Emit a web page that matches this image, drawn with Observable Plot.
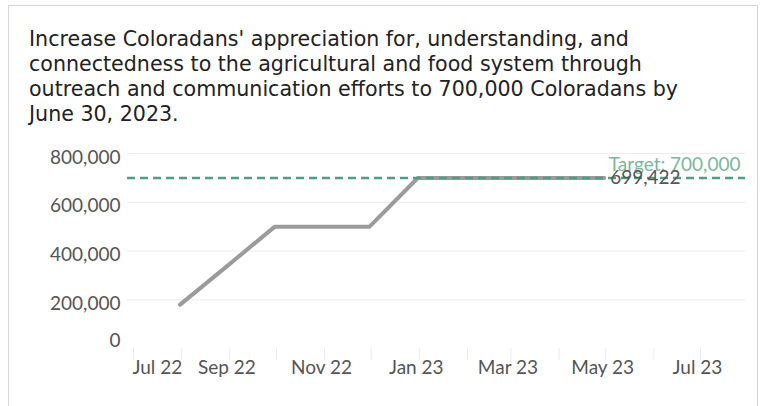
<!DOCTYPE html>
<html>
<head>
<meta charset="utf-8">
<script src="https://cdn.jsdelivr.net/npm/d3@7"></script>
<script src="https://cdn.jsdelivr.net/npm/@observablehq/plot@0.6"></script>
<style>
  html, body { margin: 0; padding: 0; background: #fff; }
  #wrap { position: relative; width: 761px; height: 406px; overflow: hidden; }
  #frame { position: absolute; left: 8px; top: 5px; width: 748px; height: 420px;
           border-top: 1px solid #d6d6d6; border-left: 1px solid #d6d6d6; border-right: 1px solid #d6d6d6; }
  #title { position: absolute; left: 29px; top: 28px; font-family: "DejaVu Sans", sans-serif;
           font-size: 19px; line-height: 25px; color: #222; white-space: pre; }
  #chart { position: absolute; left: 0; top: 140px; }
</style>
</head>
<body>
<div id="wrap">
  <div id="frame"></div>
  <div id="title"></div>
  <div id="chart"></div>
</div>
<script>
const titleLines = [
  "Increase Coloradans' appreciation for, understanding, and",
  "connectedness to the agricultural and food system through",
  "outreach and communication efforts to 700,000 Coloradans by",
  "June 30, 2023."
];
const dates = ["2022-07-31","2022-08-31","2022-09-30","2022-10-31","2022-11-30","2022-12-31","2023-01-31","2023-02-28","2023-03-31","2023-04-30"];
const values = [180000, 342000, 500000, 500000, 500000, 699422, 699422, 699422, 699422, 699422];
const target = 700000;
const targetLabel = "Target: 700,000";
const yTicks = [0, 200000, 400000, 600000, 800000];
const xLabelDates = ["2022-07-01","2022-09-01","2022-11-01","2023-01-01","2023-03-01","2023-05-01","2023-07-01"];
const xLabels = ["Jul 22","Sep 22","Nov 22","Jan 23","Mar 23","May 23","Jul 23"];

// title, sized so that its first line spans the same width as in the reference
const titleEl = document.getElementById("title");
const probe = document.createElement("span");
probe.style.cssText = "position:absolute;visibility:hidden;white-space:pre;font-family:'DejaVu Sans',sans-serif;font-size:19px;";
probe.textContent = titleLines[0];
document.body.appendChild(probe);
const w = probe.getBoundingClientRect().width;
probe.remove();
const fs = 19 * 600 / w;
titleEl.style.fontSize = fs.toFixed(2) + "px";
titleEl.style.top = (47 - ((25 - 1.164 * fs) / 2 + 0.928 * fs)).toFixed(1) + "px";
titleEl.textContent = titleLines.join("\n");

const data = dates.map((d, i) => ({date: new Date(d), value: values[i]}));
const last = data[data.length - 1];
const labels = xLabelDates.map((d, i) => ({date: new Date(d), label: xLabels[i]}));
const fmt = d3.format(",");

const chart = Plot.plot({
  width: 761,
  height: 266,
  marginLeft: 127,
  marginRight: 16,
  marginTop: 13,
  marginBottom: 58,
  style: {fontFamily: "Lato, 'Open Sans', sans-serif", fontSize: "19px", color: "#555", background: "transparent"},
  x: {type: "utc", domain: [new Date("2022-06-27T03:00Z"), new Date("2023-07-30T00:00Z")]},
  y: {domain: [0, 800000]},
  marks: [
    Plot.gridY(yTicks.filter(d => d > 0), {stroke: "#ececec", strokeOpacity: 1}),
    Plot.axisX({ticks: "month", tickFormat: () => "", tickSize: 12, stroke: "#ebebeb", strokeOpacity: 1, label: null}),
    Plot.axisY({ticks: yTicks.filter(d => d > 0), tickSize: 0, tickPadding: 7, tickFormat: fmt, dy: 4, label: null}),
    Plot.text(yTicks.filter(d => d === 0), {y: d => d, text: d => fmt(d), frameAnchor: "left", textAnchor: "end", dx: -7, dy: -8, fill: "#555"}),
    Plot.text(labels.slice(0, 1), {x: "date", text: "label", frameAnchor: "bottom", textAnchor: "start", dx: -1, dy: 25, fill: "#555"}),
    Plot.text(labels.slice(1), {x: "date", text: "label", frameAnchor: "bottom", dx: -3, dy: 25, fill: "#555"}),
    Plot.line(data, {x: "date", y: "value", stroke: "#9b9b9b", strokeWidth: 4, strokeLinejoin: "miter"}),
    Plot.ruleY([target], {stroke: "#4f9e7c", strokeWidth: 2.5, strokeDasharray: "8,5"}),
    Plot.text([target], {y: d => d, text: () => targetLabel, frameAnchor: "right", textAnchor: "end", dx: -5, dy: -13, fill: "#7db69c"}),
    Plot.text([last], {x: "date", y: "value", text: d => fmt(d.value), textAnchor: "start", dx: 6, fill: "#555"})
  ]
});
document.getElementById("chart").appendChild(chart);
</script>
</body>
</html>
